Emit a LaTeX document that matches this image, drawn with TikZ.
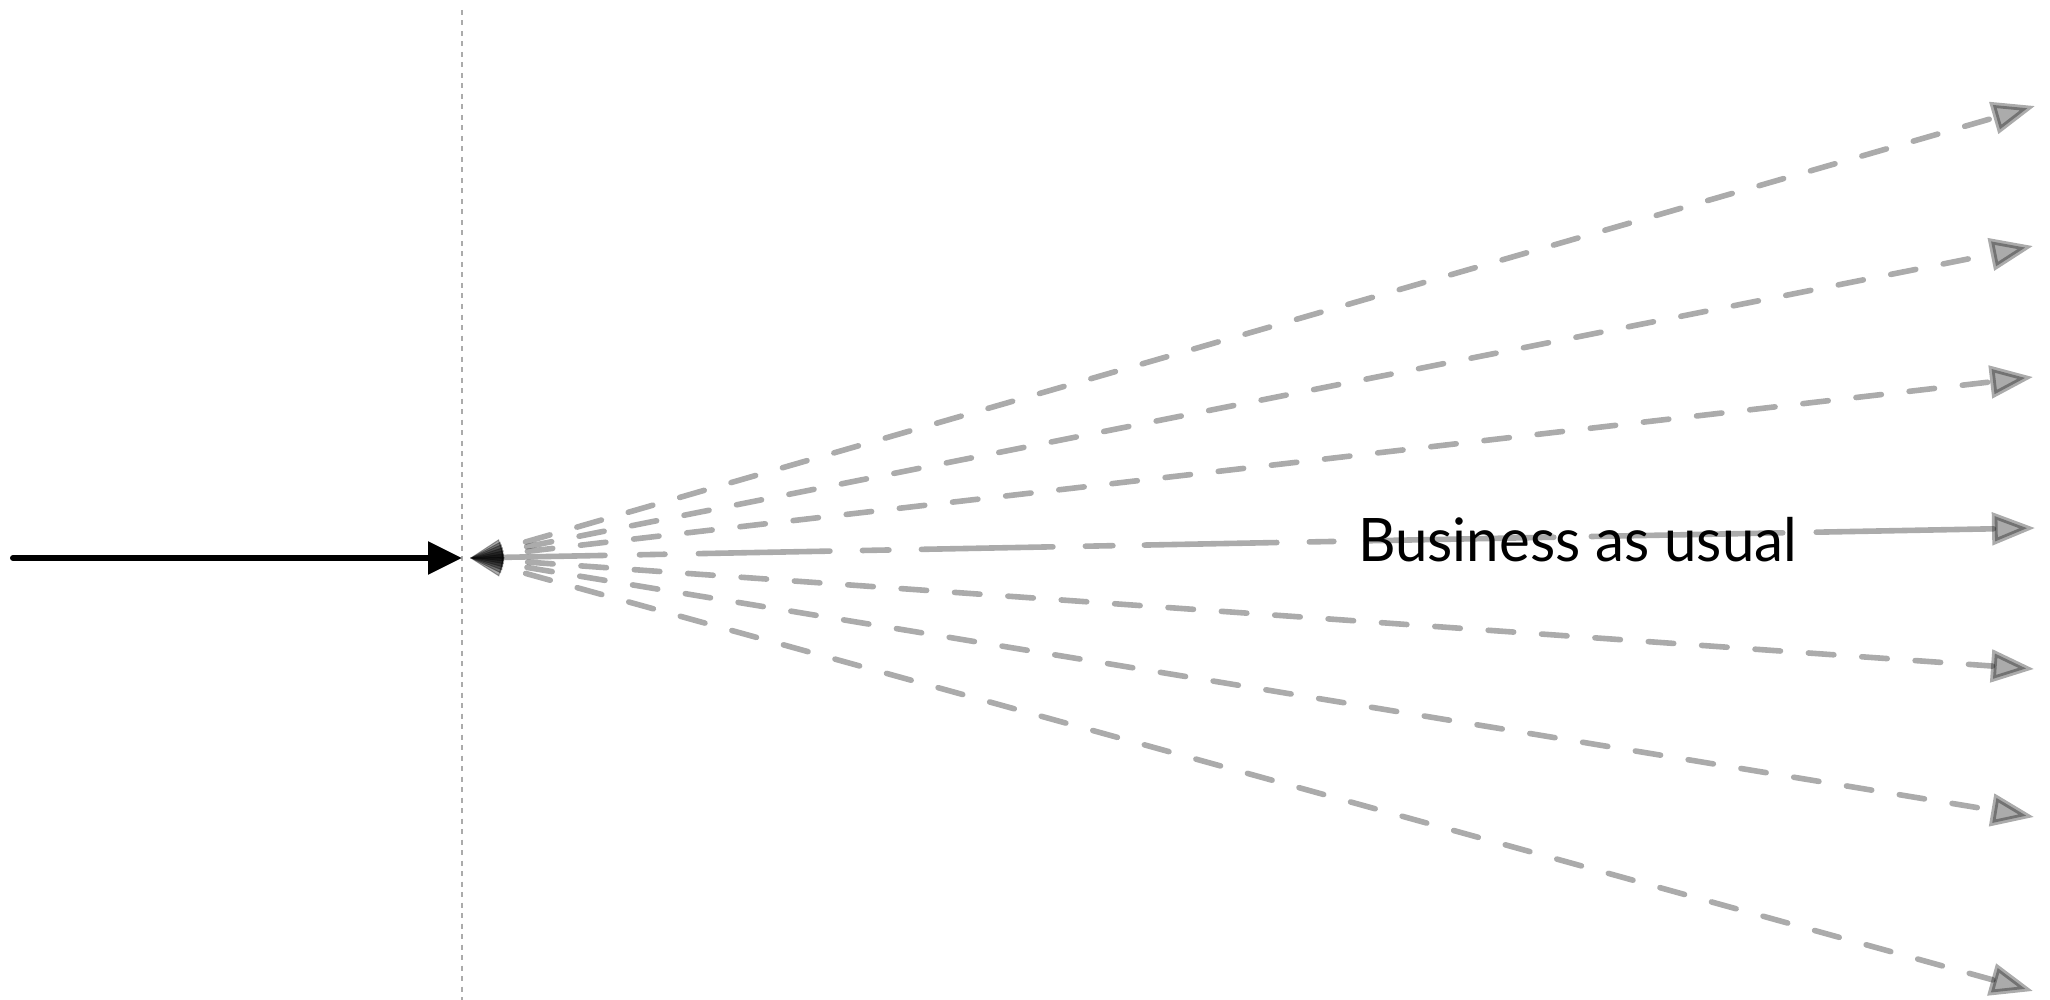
\documentclass[tikz,border=0pt]{standalone}
\usepackage{fontspec}
\setmainfont{Lato}
\usetikzlibrary{arrows.meta}
\begin{document}
\begin{tikzpicture}[x=1pt,y=-1pt,
  fanline/.style={draw=black, draw opacity=0.33, fill opacity=0.33,
    line width=5.6pt, line cap=round,
    {Triangle[length=33pt,width=20pt,fill=black,line width=1pt]}-{Triangle[length=43pt,width=32pt,fill=black]}},
  fandash/.style={fanline, dash pattern=on 25.5pt off 28pt, dash phase=28.5pt},
  middash/.style={fanline, dash pattern=on 102.25pt off 34.5pt on 25.5pt off 33.5pt
      on 131.5pt off 32.5pt on 26.5pt off 32.5pt on 131.5pt off 32.5pt
      on 27.5pt off 31.5pt on 132.5pt off 32.5pt on 24.5pt off 32.5pt
      on 187.5pt off 37.5pt on 191.5pt off 33.5pt on 400pt off 100pt},
  mainarrow/.style={draw=black, line width=6pt, line cap=round,
    -{Triangle[length=34pt,width=32pt]}},
  divider/.style={draw=black!33, line width=2pt, dash pattern=on 5pt off 5.5pt},
  label/.style={anchor=base west, inner sep=0pt, xscale=0.97, font=\fontsize{60}{72}\selectfont}
]
\useasboundingbox (0,0) rectangle (2050,1000);
% divider
\coordinate (vtop) at (462,10);
\coordinate (vbot) at (462,1000);
\draw[divider] (vtop) -- (vbot);
% incoming arrow
\coordinate (src) at (13,558);
\coordinate (hub) at (462,558);
\draw[mainarrow] (src) -- (hub);
% fan of futures
\coordinate (fan) at (470,558);
\coordinate (e1) at (2035,106);
\coordinate (e2) at (2033,246);
\coordinate (e3) at (2033,377);
\coordinate (e4) at (2035,528);
\coordinate (e5) at (2034,669);
\coordinate (e6) at (2034,817);
\coordinate (e7) at (2033,991);
\draw[fandash] (fan) -- (e1);
\draw[fandash] (fan) -- (e2);
\draw[fandash] (fan) -- (e3);
\draw[middash] (fan) -- (e4);
\draw[fandash] (fan) -- (e5);
\draw[fandash] (fan) -- (e6);
\draw[fandash] (fan) -- (e7);
\node[label] (bau) at (1358,561) {Business as usual};
\end{tikzpicture}
\end{document}
